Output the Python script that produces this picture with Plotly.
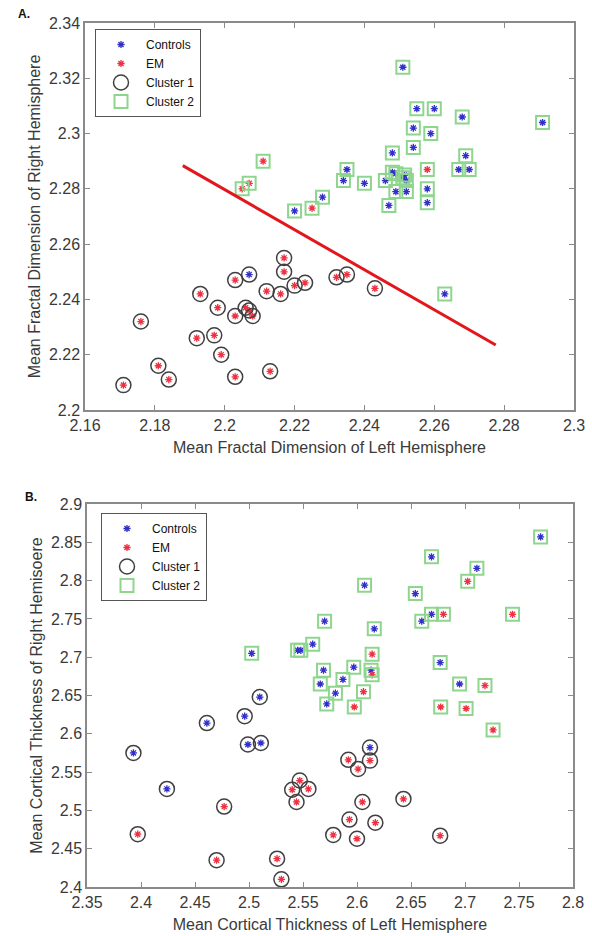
import plotly.graph_objects as go

# ---------------- Panel A data (fractal dimension) ----------------
a_x = [2.211, 2.205, 2.207, 2.220, 2.251, 2.255, 2.260, 2.268, 2.291, 2.254,
       2.259, 2.248, 2.254, 2.269, 2.258, 2.267, 2.270, 2.235, 2.234, 2.240,
       2.248, 2.246, 2.249, 2.252, 2.252, 2.251, 2.258, 2.258, 2.247, 2.228,
       2.225, 2.263, 2.249, 2.2515,
       2.171, 2.176, 2.181, 2.184, 2.192, 2.193, 2.197, 2.198, 2.199, 2.203,
       2.203, 2.203, 2.207, 2.206, 2.208, 2.207, 2.213, 2.212, 2.216, 2.217,
       2.217, 2.220, 2.223, 2.232, 2.235, 2.243]
a_y = [2.290, 2.280, 2.282, 2.272, 2.324, 2.309, 2.309, 2.306, 2.304, 2.302,
       2.300, 2.293, 2.295, 2.292, 2.287, 2.287, 2.287, 2.287, 2.283, 2.282,
       2.286, 2.283, 2.279, 2.279, 2.283, 2.284, 2.280, 2.275, 2.274, 2.277,
       2.273, 2.242, 2.2855, 2.285,
       2.209, 2.232, 2.216, 2.211, 2.226, 2.242, 2.227, 2.237, 2.220, 2.212,
       2.247, 2.234, 2.249, 2.237, 2.234, 2.236, 2.214, 2.243, 2.242, 2.255,
       2.250, 2.245, 2.246, 2.248, 2.249, 2.244]
a_group = ["EM", "EM", "EM", "Controls", "Controls", "Controls", "Controls", "Controls", "Controls", "Controls",
           "Controls", "Controls", "Controls", "Controls", "EM", "Controls", "Controls", "Controls", "Controls", "Controls",
           "Controls", "Controls", "Controls", "Controls", "Controls", "Controls", "Controls", "Controls", "Controls", "Controls",
           "EM", "Controls", "Controls", "Controls",
           "EM", "EM", "EM", "EM", "EM", "EM", "EM", "EM", "EM", "EM",
           "EM", "EM", "Controls", "EM", "EM", "EM", "EM", "EM", "EM", "EM",
           "EM", "EM", "EM", "EM", "EM", "EM"]
a_cluster = [2] * 34 + [1] * 26
a_line_x = [2.188, 2.2776]
a_line_y = [2.2884, 2.2235]
a_xticks = [2.16, 2.18, 2.2, 2.22, 2.24, 2.26, 2.28, 2.3]
a_xticklabels = ["2.16", "2.18", "2.2", "2.22", "2.24", "2.26", "2.28", "2.3"]
a_yticks = [2.2, 2.22, 2.24, 2.26, 2.28, 2.3, 2.32, 2.34]
a_yticklabels = ["2.2", "2.22", "2.24", "2.26", "2.28", "2.3", "2.32", "2.34"]

# ---------------- Panel B data (cortical thickness) ----------------
b_x = [2.5025, 2.545, 2.548, 2.770, 2.669, 2.711, 2.7025, 2.607, 2.654, 2.669,
       2.680, 2.744, 2.660, 2.570, 2.616, 2.559, 2.614, 2.677, 2.569, 2.597,
       2.613, 2.614, 2.587, 2.566, 2.695, 2.7185, 2.606, 2.580, 2.572, 2.5975,
       2.6775, 2.701, 2.726,
       2.393, 2.424, 2.397, 2.461, 2.477, 2.470, 2.496, 2.499, 2.511, 2.510,
       2.526, 2.530, 2.540, 2.547, 2.555, 2.544, 2.578, 2.593, 2.600, 2.605,
       2.617, 2.592, 2.601, 2.612, 2.612, 2.643, 2.677]
b_y = [2.705, 2.709, 2.709, 2.857, 2.831, 2.816, 2.799, 2.794, 2.783, 2.756,
       2.756, 2.756, 2.747, 2.747, 2.737, 2.717, 2.704, 2.693, 2.683, 2.687,
       2.683, 2.677, 2.671, 2.665, 2.665, 2.663, 2.655, 2.653, 2.639, 2.635,
       2.635, 2.633, 2.605,
       2.575, 2.528, 2.469, 2.614, 2.505, 2.435, 2.623, 2.586, 2.588, 2.648,
       2.437, 2.410, 2.527, 2.539, 2.528, 2.511, 2.468, 2.488, 2.463, 2.511,
       2.484, 2.566, 2.554, 2.565, 2.582, 2.515, 2.467]
b_group = ["Controls", "Controls", "Controls", "Controls", "Controls", "Controls", "EM", "Controls", "Controls", "Controls",
           "EM", "EM", "Controls", "Controls", "Controls", "Controls", "EM", "Controls", "Controls", "Controls",
           "Controls", "EM", "Controls", "Controls", "Controls", "EM", "EM", "Controls", "Controls", "EM",
           "EM", "EM", "EM",
           "Controls", "Controls", "EM", "Controls", "EM", "EM", "Controls", "Controls", "Controls", "Controls",
           "EM", "EM", "EM", "EM", "EM", "EM", "EM", "EM", "EM", "EM",
           "EM", "EM", "EM", "EM", "Controls", "EM", "EM"]
b_cluster = [2] * 33 + [1] * 27
b_xticks = [2.35, 2.4, 2.45, 2.5, 2.55, 2.6, 2.65, 2.7, 2.75, 2.8]
b_xticklabels = ["2.35", "2.4", "2.45", "2.5", "2.55", "2.6", "2.65", "2.7", "2.75", "2.8"]
b_yticks = [2.4, 2.45, 2.5, 2.55, 2.6, 2.65, 2.7, 2.75, 2.8, 2.85, 2.9]
b_yticklabels = ["2.4", "2.45", "2.5", "2.55", "2.6", "2.65", "2.7", "2.75", "2.8", "2.85", "2.9"]

# ---------------- styles ----------------
FONT = "Liberation Sans, Arial, sans-serif"
TXT = "#3a3a3a"
AXC = "#8a8a8a"
BLUE = "#3030c8"
RED = "#ee3040"
CIRC = "#404040"
GREEN = "#8ed68e"

fig = go.Figure()


def add_panel(xs, ys, groups, clusters, xa, ya, legend):
    c1 = [i for i, c in enumerate(clusters) if c == 1]
    c2 = [i for i, c in enumerate(clusters) if c == 2]
    ctr = [i for i, g in enumerate(groups) if g == "Controls"]
    em = [i for i, g in enumerate(groups) if g == "EM"]
    fig.add_trace(go.Scatter(
        x=[xs[i] for i in ctr], y=[ys[i] for i in ctr], mode="markers", name="Controls",
        xaxis=xa, yaxis=ya, legend=legend, legendrank=1,
        marker=dict(symbol="asterisk-open", size=6, color=BLUE, line=dict(color=BLUE, width=1.3))))
    fig.add_trace(go.Scatter(
        x=[xs[i] for i in em], y=[ys[i] for i in em], mode="markers", name="EM",
        xaxis=xa, yaxis=ya, legend=legend, legendrank=2,
        marker=dict(symbol="asterisk-open", size=6, color=RED, line=dict(color=RED, width=1.3))))
    fig.add_trace(go.Scatter(
        x=[xs[i] for i in c1], y=[ys[i] for i in c1], mode="markers", name="Cluster 1",
        xaxis=xa, yaxis=ya, legend=legend, legendrank=3,
        marker=dict(symbol="circle-open", size=15, color=CIRC, line=dict(color=CIRC, width=1.5))))
    fig.add_trace(go.Scatter(
        x=[xs[i] for i in c2], y=[ys[i] for i in c2], mode="markers", name="Cluster 2",
        xaxis=xa, yaxis=ya, legend=legend, legendrank=4,
        marker=dict(symbol="square-open", size=13, color=GREEN, line=dict(color=GREEN, width=2))))


add_panel(a_x, a_y, a_group, a_cluster, "x", "y", "legend")
fig.add_trace(go.Scatter(x=a_line_x, y=a_line_y, mode="lines", showlegend=False,
                         xaxis="x", yaxis="y", line=dict(color="#e3161c", width=3)))
add_panel(b_x, b_y, b_group, b_cluster, "x2", "y2", "legend2")

W, H = 592, 936


def ax(dom, rng, tv, tt, title, standoff):
    return dict(domain=dom, range=rng, tickvals=tv, ticktext=tt, showgrid=False, zeroline=False,
                automargin=False,
                showline=True, linecolor=AXC, linewidth=1.5, mirror="ticks", ticks="inside",
                ticklen=5, tickwidth=1, tickcolor=AXC,
                tickfont=dict(family=FONT, size=16, color=TXT),
                title=dict(text=title, font=dict(family=FONT, size=16, color=TXT), standoff=standoff))


leg_common = dict(bordercolor="#555555", borderwidth=1, bgcolor="white", xanchor="left", yanchor="top",
                  font=dict(family=FONT, size=12, color="#111111"), itemwidth=40, tracegroupgap=0,
                  traceorder="normal")

fig.update_layout(
    width=W, height=H, margin=dict(l=0, r=0, t=0, b=0, autoexpand=False),
    paper_bgcolor="white", plot_bgcolor="white", showlegend=True,
    xaxis=ax([85 / W, 574 / W], [2.16, 2.3], a_xticks, a_xticklabels,
             "Mean Fractal Dimension of Left Hemisphere", 9),
    yaxis=ax([1 - 410 / H, 1 - 23 / H], [2.2, 2.34], a_yticks, a_yticklabels,
             "Mean Fractal Dimension of Right Hemisphere", 4),
    xaxis2=dict(ax([87 / W, 573 / W], [2.35, 2.8], b_xticks, b_xticklabels,
                   "Mean Cortical Thickness of Left Hemisphere", 9), anchor="y2"),
    yaxis2=dict(ax([1 - 887 / H, 1 - 504 / H], [2.4, 2.9], b_yticks, b_yticklabels,
                   "Mean Cortical Thickness of Right Hemisoere", 4), anchor="x2"),
    legend=dict(leg_common, x=95 / W, y=1 - 29 / H),
    legend2=dict(leg_common, x=101 / W, y=1 - 513 / H),
    annotations=[
        dict(text="<b>A.</b>", x=16 / W, y=1 - 14 / H, xref="paper", yref="paper", xanchor="left",
             yanchor="middle", showarrow=False, font=dict(family=FONT, size=12, color="#111111")),
        dict(text="<b>B.</b>", x=23 / W, y=1 - 497 / H, xref="paper", yref="paper", xanchor="left",
             yanchor="middle", showarrow=False, font=dict(family=FONT, size=12, color="#111111")),
    ],
)

fig.write_html("out.html")
